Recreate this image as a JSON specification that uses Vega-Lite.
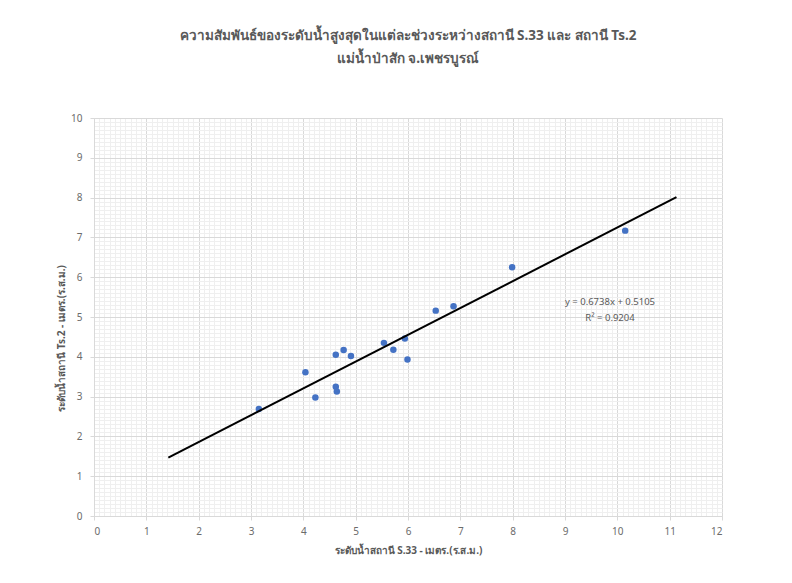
{
  "$schema": "https://vega.github.io/schema/vega-lite/v6.json",
  "width": 628,
  "height": 398,
  "autosize": {"type": "none"},
  "padding": {"left": 94, "top": 118, "right": 70, "bottom": 67},
  "background": "white",
  "config": {"view": {"stroke": null}, "font": "Noto Sans"},
  "title": {
    "text": ["ความสัมพันธ์ของระดับน้ำสูงสุดในแต่ละช่วงระหว่างสถานี S.33 และ สถานี Ts.2", "แม่น้ำป่าสัก จ.เพชรบูรณ์"],
    "fontSize": 13.5,
    "fontWeight": "bold",
    "color": "#595959",
    "anchor": "middle",
    "lineHeight": 23,
    "offset": 48
  },
  "datasets": {
    "obs": [
      {"s33": 3.15, "ts2": 2.69},
      {"s33": 4.04, "ts2": 3.61},
      {"s33": 4.23, "ts2": 2.98},
      {"s33": 4.62, "ts2": 3.25},
      {"s33": 4.64, "ts2": 3.13},
      {"s33": 4.62, "ts2": 4.05},
      {"s33": 4.77, "ts2": 4.17},
      {"s33": 4.91, "ts2": 4.02},
      {"s33": 5.54, "ts2": 4.35},
      {"s33": 5.72, "ts2": 4.18},
      {"s33": 5.94, "ts2": 4.46},
      {"s33": 5.99, "ts2": 3.93},
      {"s33": 6.53, "ts2": 5.16},
      {"s33": 6.87, "ts2": 5.27},
      {"s33": 7.99, "ts2": 6.25},
      {"s33": 10.15, "ts2": 7.17}
    ],
    "trend": [
      {"s33": 1.42, "ts2": 1.467},
      {"s33": 11.13, "ts2": 8.010}
    ],
    "eq": [
      {"s33": 9.86, "ts2": 5.38, "label": "y = 0.6738x + 0.5105"},
      {"s33": 9.86, "ts2": 4.97, "label": "R² = 0.9204"}
    ]
  },
  "layer": [
    {
      "data": {"name": "eq"},
      "mark": {"type": "text", "fontSize": 9.5, "color": "#595959", "align": "center", "baseline": "middle"},
      "encoding": {
        "x": {
          "field": "s33", "type": "quantitative",
          "scale": {"domain": [0, 12], "nice": false, "zero": false},
          "axis": {"orient": "bottom", "grid": true, "gridColor": "#efefef", "gridWidth": 1, "tickCount": 120, "labels": false, "ticks": false, "domain": false, "title": null}
        },
        "y": {
          "field": "ts2", "type": "quantitative",
          "scale": {"domain": [0, 10], "nice": false, "zero": false},
          "axis": {"orient": "left", "grid": true, "gridColor": "#efefef", "gridWidth": 1, "tickCount": 100, "labels": false, "ticks": false, "domain": false, "title": null}
        },
        "text": {"field": "label"}
      }
    },
    {
      "data": {"name": "obs"},
      "mark": {"type": "circle", "size": 42, "color": "#4472c4", "opacity": 1},
      "encoding": {
        "x": {
          "field": "s33", "type": "quantitative",
          "axis": {
            "orient": "bottom", "values": [0,1,2,3,4,5,6,7,8,9,10,11,12],
            "grid": true, "gridColor": "#d9d9d9",
            "domainColor": "#d9d9d9", "tickColor": "#d9d9d9", "tickSize": 4,
            "labelColor": "#6b6b6b", "labelFontSize": 10, "labelPadding": 6,
            "title": "ระดับน้ำสถานี S.33 - เมตร.(ร.ส.ม.)",
            "titleColor": "#595959", "titleFontSize": 10, "titleFontWeight": "bold", "titlePadding": 9
          }
        },
        "y": {
          "field": "ts2", "type": "quantitative",
          "axis": {
            "orient": "left", "values": [0,1,2,3,4,5,6,7,8,9,10],
            "grid": true, "gridColor": "#d9d9d9",
            "domainColor": "#d9d9d9", "tickColor": "#d9d9d9", "tickSize": 4,
            "labelColor": "#6b6b6b", "labelFontSize": 10, "labelPadding": 8,
            "title": "ระดับน้ำสถานี Ts.2 - เมตร.(ร.ส.ม.)",
            "titleColor": "#595959", "titleFontSize": 10, "titleFontWeight": "bold",
            "titleX": -33, "titleY": 220, "titleAlign": "center", "titleBaseline": "middle", "titleAngle": -90
          }
        }
      }
    },
    {
      "data": {"name": "trend"},
      "mark": {"type": "line", "color": "#000000", "strokeWidth": 2},
      "encoding": {
        "x": {"field": "s33", "type": "quantitative", "axis": null},
        "y": {"field": "ts2", "type": "quantitative", "axis": null}
      }
    }
  ],
  "resolve": {"axis": {"x": "independent", "y": "independent"}}
}
